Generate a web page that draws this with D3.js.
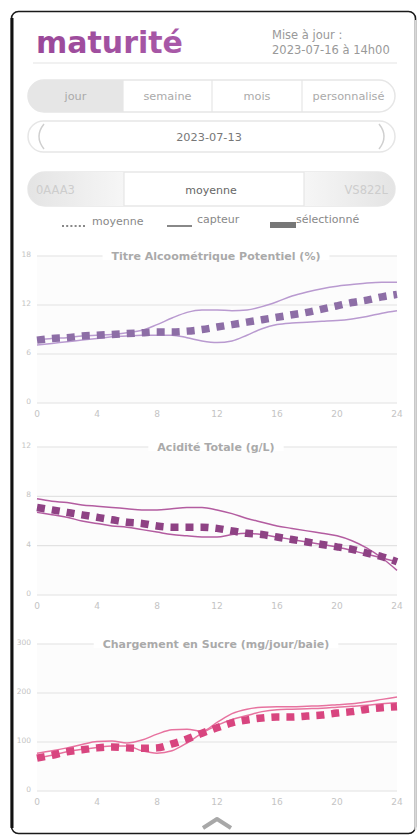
<!DOCTYPE html>
<html>
<head>
<meta charset="utf-8">
<script src="https://cdn.jsdelivr.net/npm/d3@7"></script>
<style>
  body { margin: 0; background: #fff; }
  svg { display: block; font-family: "DejaVu Sans", sans-serif; }
</style>
</head>
<body>
<div id="app"></div>
<script>
//DATA--------------------
var hours = d3.range(0, 25);
var xTicks = [0, 4, 8, 12, 16, 20, 24];
var tabLabels = ["jour", "semaine", "mois", "personnalisé"];

// Titre Alcoometrique Potentiel (%)
var tapTicks = [0, 6, 12, 18];
var tapMoyenne = [7.7, 7.9, 8.0, 8.2, 8.3, 8.4, 8.5, 8.6, 8.7, 8.7, 8.8, 9.0, 9.3, 9.6, 9.9, 10.2, 10.5, 10.8, 11.1, 11.5, 11.9, 12.3, 12.6, 13.0, 13.3];
var tapCapteurA = [7.7, 7.9, 8.0, 8.2, 8.3, 8.4, 8.6, 8.9, 9.6, 10.4, 11.1, 11.4, 11.4, 11.3, 11.4, 11.8, 12.4, 13.1, 13.6, 14.0, 14.3, 14.5, 14.7, 14.8, 14.8];
var tapCapteurB = [7.1, 7.3, 7.5, 7.7, 7.9, 8.1, 8.2, 8.3, 8.3, 8.3, 8.0, 7.6, 7.4, 7.6, 8.3, 9.1, 9.6, 9.8, 9.9, 10.0, 10.1, 10.3, 10.6, 11.0, 11.3];

// Acidite Totale (g/L)
var atTicks = [0, 4, 8, 12];
var atMoyenne = [7.1, 6.9, 6.7, 6.5, 6.3, 6.1, 5.9, 5.8, 5.6, 5.5, 5.5, 5.5, 5.4, 5.2, 5.0, 4.9, 4.7, 4.5, 4.3, 4.1, 3.9, 3.7, 3.4, 3.1, 2.7];
var atCapteurA = [7.8, 7.6, 7.5, 7.3, 7.2, 7.1, 7.0, 6.9, 6.9, 7.0, 7.1, 7.1, 6.9, 6.6, 6.2, 5.9, 5.6, 5.4, 5.2, 5.0, 4.8, 4.4, 3.8, 3.0, 2.0];
var atCapteurB = [6.7, 6.5, 6.3, 6.0, 5.8, 5.6, 5.5, 5.3, 5.1, 4.9, 4.8, 4.7, 4.7, 4.9, 5.0, 4.9, 4.7, 4.5, 4.3, 4.1, 3.9, 3.6, 3.3, 3.0, 2.7];

// Chargement en Sucre (mg/jour/baie)
var csTicks = [0, 100, 200, 300];
var csMoyenne = [67, 73, 80, 84, 88, 90, 88, 87, 88, 96, 106, 118, 129, 139, 145, 149, 151, 151, 153, 155, 159, 162, 167, 170, 172];
var csCapteurA = [77, 82, 88, 95, 101, 102, 98, 104, 116, 125, 126, 122, 140, 158, 167, 171, 172, 172, 173, 174, 176, 178, 182, 187, 192];
var csCapteurB = [67, 73, 80, 85, 89, 92, 92, 82, 77, 82, 98, 118, 134, 146, 154, 162, 166, 167, 168, 169, 171, 173, 175, 178, 180];

//SETUP--------------------
var svgWidth = 418;
var svgHeight = 836;

var svg = d3.select("#app").append("svg")
  .attr("width", svgWidth)
  .attr("height", svgHeight);

var defs = svg.append("defs");

// phone frame
svg.append("rect")
  .attr("x", 11.5).attr("y", 11.5)
  .attr("width", 404).attr("height", 822)
  .attr("rx", 7)
  .attr("fill", "#fff")
  .attr("stroke", "#1a1a1a")
  .attr("stroke-width", 1.6);
svg.append("line")
  .attr("x1", 12).attr("x2", 12)
  .attr("y1", 18).attr("y2", 828)
  .attr("stroke", "#111").attr("stroke-width", 3);
svg.append("line")
  .attr("x1", 415.5).attr("x2", 415.5)
  .attr("y1", 20).attr("y2", 830)
  .attr("stroke", "#d8d8d8").attr("stroke-width", 2);

//HEADER--------------------
var grad = defs.append("linearGradient").attr("id", "titleGrad");
grad.append("stop").attr("offset", "0%").attr("stop-color", "#9a4899");
grad.append("stop").attr("offset", "100%").attr("stop-color", "#a95aa8");

svg.append("text")
  .attr("x", 36).attr("y", 53)
  .attr("font-size", 30).attr("font-weight", "bold")
  .attr("fill", "url(#titleGrad)")
  .text("maturité");

svg.append("text").attr("x", 272).attr("y", 39)
  .attr("font-size", 11.5).attr("fill", "#999").text("Mise à jour :");
svg.append("text").attr("x", 272).attr("y", 54)
  .attr("font-size", 11.5).attr("fill", "#999").text("2023-07-16 à 14h00");

svg.append("line")
  .attr("x1", 33).attr("x2", 397).attr("y1", 63).attr("y2", 63)
  .attr("stroke", "#e4e4e4").attr("stroke-width", 1.2);

// tab bar
var tabX = [28, 123, 212, 302, 395];
var tabY = 80, tabH = 32;
svg.append("path")
  .attr("d", `M${tabX[1]},${tabY} H${tabX[0] + 16} A16,16 0 0 0 ${tabX[0] + 16},${tabY + tabH} H${tabX[1]} Z`)
  .attr("fill", "#e6e6e6");
svg.append("rect")
  .attr("x", tabX[0]).attr("y", tabY).attr("width", tabX[4] - tabX[0]).attr("height", tabH)
  .attr("rx", 16).attr("fill", "none").attr("stroke", "#e6e6e6").attr("stroke-width", 1.5);
svg.selectAll("line.tabdiv").data(tabX.slice(1, 4)).enter().append("line")
  .attr("x1", d => d).attr("x2", d => d).attr("y1", tabY).attr("y2", tabY + tabH)
  .attr("stroke", "#e6e6e6").attr("stroke-width", 1.2);
svg.selectAll("text.tab").data(tabLabels).enter().append("text")
  .attr("x", (d, i) => (tabX[i] + tabX[i + 1]) / 2)
  .attr("y", tabY + 20)
  .attr("text-anchor", "middle")
  .attr("font-size", 11.3).attr("fill", "#aaa")
  .text(d => d);

// date nav
svg.append("rect")
  .attr("x", 28).attr("y", 121).attr("width", 367).attr("height", 31)
  .attr("rx", 15.5).attr("fill", "#fff").attr("stroke", "#e6e6e6").attr("stroke-width", 1.5);
svg.append("text").attr("x", 209).attr("y", 141).attr("text-anchor", "middle")
  .attr("font-size", 11.3).attr("fill", "#777").text("2023-07-13");
svg.append("path").attr("d", "M44,124 Q34,136.5 44,149")
  .attr("fill", "none").attr("stroke", "#cfcfcf").attr("stroke-width", 1.5);
svg.append("path").attr("d", "M379,124 Q389,136.5 379,149")
  .attr("fill", "none").attr("stroke", "#cfcfcf").attr("stroke-width", 1.5);

// sensor selector
var gl = defs.append("linearGradient").attr("id", "segL");
gl.append("stop").attr("offset", "0%").attr("stop-color", "#e4e4e4");
gl.append("stop").attr("offset", "100%").attr("stop-color", "#f6f6f6");
var gr = defs.append("linearGradient").attr("id", "segR");
gr.append("stop").attr("offset", "0%").attr("stop-color", "#f6f6f6");
gr.append("stop").attr("offset", "100%").attr("stop-color", "#e4e4e4");
svg.append("rect")
  .attr("x", 28).attr("y", 172).attr("width", 367).attr("height", 34)
  .attr("rx", 17).attr("fill", "#fff").attr("stroke", "#e8e8e8").attr("stroke-width", 1.5);
svg.append("path")
  .attr("d", "M124,172 H45 A17,17 0 0 0 45,206 H124 Z").attr("fill", "url(#segL)");
svg.append("path")
  .attr("d", "M304,172 H378 A17,17 0 0 1 378,206 H304 Z").attr("fill", "url(#segR)");
[124, 304].forEach(x => svg.append("line")
  .attr("x1", x).attr("x2", x).attr("y1", 172).attr("y2", 206)
  .attr("stroke", "#e6e6e6").attr("stroke-width", 1.2));
svg.append("text").attr("x", 36).attr("y", 194).attr("font-size", 11.5).attr("fill", "#cdcdcd").text("0AAA3");
svg.append("text").attr("x", 211).attr("y", 194).attr("text-anchor", "middle")
  .attr("font-size", 11).attr("fill", "#666").text("moyenne");
svg.append("text").attr("x", 388).attr("y", 194).attr("text-anchor", "end")
  .attr("font-size", 11.5).attr("fill", "#cdcdcd").text("VS822L");

// legend
var legY = 222;
svg.append("line").attr("x1", 62).attr("x2", 87).attr("y1", legY + 4).attr("y2", legY + 4)
  .attr("stroke", "#888").attr("stroke-width", 2).attr("stroke-dasharray", "2 2.2");
svg.append("text").attr("x", 92).attr("y", legY + 3).attr("font-size", 11).attr("fill", "#888").text("moyenne");
svg.append("line").attr("x1", 167).attr("x2", 192).attr("y1", legY + 4).attr("y2", legY + 4)
  .attr("stroke", "#888").attr("stroke-width", 2);
svg.append("text").attr("x", 197).attr("y", legY + 1).attr("font-size", 11).attr("fill", "#888").text("capteur");
svg.append("rect").attr("x", 270).attr("y", legY).attr("width", 26).attr("height", 6).attr("fill", "#777");
svg.append("text").attr("x", 296).attr("y", legY + 1).attr("font-size", 11).attr("fill", "#888").text("sélectionné");

//CHARTS--------------------
var xScale = d3.scaleLinear().domain([0, 24]).range([37, 397]);

function drawChart(top, bottom, yTicks, title, moyenne, capA, capB, lineColor, meanColor) {
  var yScale = d3.scaleLinear().domain([0, d3.max(yTicks)]).range([bottom, top]);
  var g = svg.append("g");

  g.append("rect").attr("x", 37).attr("y", top).attr("width", 360).attr("height", bottom - top)
    .attr("fill", "#fcfcfc");

  // gridlines
  g.selectAll("line.grid").data(yTicks).enter().append("line")
    .attr("x1", 37).attr("x2", 397)
    .attr("y1", d => yScale(d)).attr("y2", d => yScale(d))
    .attr("stroke", "#e2e2e2").attr("stroke-width", 1.2);

  // y labels
  g.selectAll("text.ylab").data(yTicks).enter().append("text")
    .attr("x", 31).attr("y", d => yScale(d) + 1)
    .attr("text-anchor", "end")
    .attr("font-size", 7.5).attr("fill", "#c4c4c4")
    .text(d => d);

  // x labels
  g.selectAll("text.xlab").data(xTicks).enter().append("text")
    .attr("x", d => xScale(d)).attr("y", bottom + 14)
    .attr("text-anchor", "middle")
    .attr("font-size", 9).attr("fill", "#c4c4c4")
    .text(d => d);

  // title on top gridline
  var t = g.append("text")
    .attr("x", 216).attr("y", top + 4)
    .attr("text-anchor", "middle")
    .attr("font-size", 11).attr("font-weight", "bold").attr("fill", "#aaa")
    .text(title);
  var bb = t.node().getBBox();
  g.append("rect")
    .attr("x", bb.x - 9).attr("y", top - 4).attr("width", bb.width + 18).attr("height", 8)
    .attr("fill", "#fff");
  t.raise();

  var line = d3.line()
    .x((d, i) => xScale(hours[i]))
    .y(d => yScale(d))
    .curve(d3.curveMonotoneX);

  [capA, capB].forEach(s => g.append("path")
    .attr("d", line(s))
    .attr("fill", "none").attr("stroke", lineColor).attr("stroke-width", 1.5));

  g.append("path")
    .attr("d", line(moyenne))
    .attr("fill", "none").attr("stroke", meanColor)
    .attr("stroke-width", 7.5).attr("stroke-dasharray", "8 7");
}

drawChart(256, 403, tapTicks, "Titre Alcoométrique Potentiel  (%)", tapMoyenne, tapCapteurA, tapCapteurB, "#b99ad0", "#8d6ea6");
drawChart(447, 595, atTicks, "Acidité Totale  (g/L)", atMoyenne, atCapteurA, atCapteurB, "#b35ca0", "#8e4284");
drawChart(644, 791, csTicks, "Chargement en Sucre  (mg/jour/baie)", csMoyenne, csCapteurA, csCapteurB, "#e7729f", "#d8457f");

// scroll-up chevron
svg.append("path")
  .attr("d", "M203,828 L217,819 L231,828")
  .attr("fill", "none").attr("stroke", "#a8a8a8").attr("stroke-width", 4)
  .attr("stroke-linejoin", "round");
</script>
</body>
</html>
